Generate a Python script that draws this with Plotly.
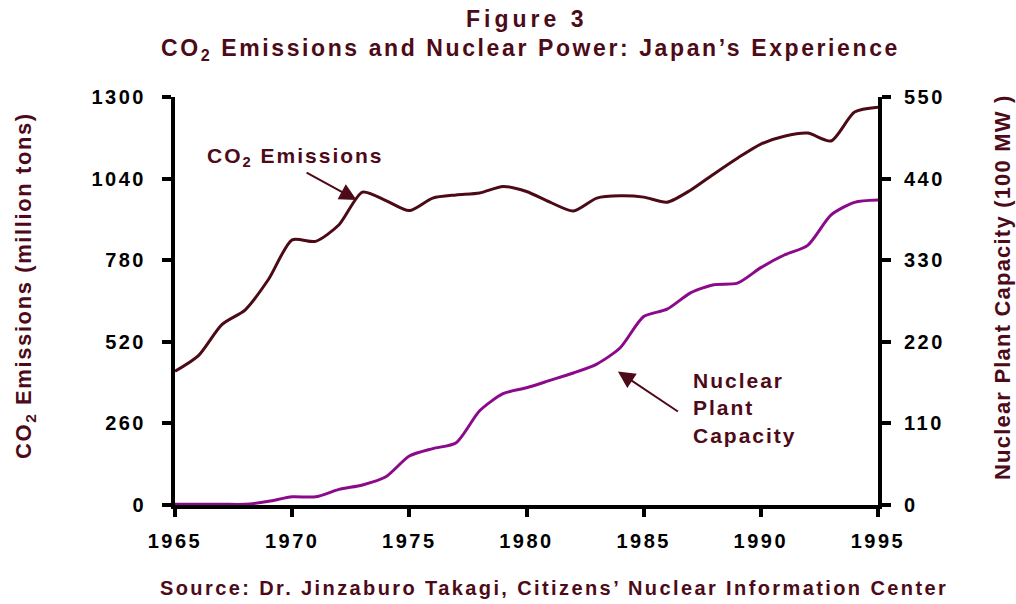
import plotly.graph_objects as go

years = list(range(1965, 1996))
co2_emissions = [426, 476, 575, 622, 720, 845, 840, 893, 997, 970, 938, 978, 988, 994, 1015, 999,
                 965, 937, 978, 985, 981, 965, 1003, 1055, 1105, 1150, 1175, 1185, 1160, 1252, 1267]
nuclear_capacity = [1, 1, 1, 1, 5, 11, 11, 21, 27, 38, 66, 76, 84, 127, 150, 158,
                    168, 178, 190, 212, 254, 264, 286, 297, 299, 320, 337, 350, 391, 408, 411]

x_ticks = [1965, 1970, 1975, 1980, 1985, 1990, 1995]
left_ticks = [0, 260, 520, 780, 1040, 1300]
right_ticks = [0, 110, 220, 330, 440, 550]

MAROON = "#4D0A18"
CO2_COLOR = "#4B0A16"
NUC_COLOR = "#8B0A8B"
FONT = "Liberation Sans, Arial, sans-serif"


def sp(text, px):
    return f'<span style="letter-spacing:{px}px">{text}</span>'


# plot area in pixels
L, R, T, B = 175, 138, 97, 99
W, H = 1016, 604
PW, PH = W - L - R, H - T - B


def xp(px):
    return (px - L) / PW


def yp(py):
    return (H - B - py) / PH


fig = go.Figure()
fig.add_trace(go.Scatter(x=years, y=co2_emissions, mode="lines",
                         line=dict(color=CO2_COLOR, width=3, shape="spline", smoothing=0.7),
                         hoverinfo="skip", showlegend=False))
fig.add_trace(go.Scatter(x=years, y=nuclear_capacity, mode="lines", yaxis="y2",
                         line=dict(color=NUC_COLOR, width=3, shape="spline", smoothing=0.7),
                         hoverinfo="skip", showlegend=False))

tickfont = dict(family=FONT, size=20, color="black", weight="bold")

fig.update_layout(
    width=W, height=H,
    margin=dict(l=L, r=R, t=T, b=B),
    paper_bgcolor="white", plot_bgcolor="white",
    showlegend=False,
    xaxis=dict(range=[1965, 1995], tickvals=x_ticks,
               ticktext=[sp(str(v), 2.5) for v in x_ticks],
               showgrid=False, zeroline=False, showline=True, linewidth=4, linecolor="black",
               ticks="outside", ticklen=8, tickwidth=4, tickcolor="black",
               tickfont=tickfont, ticklabelstandoff=7),
    yaxis=dict(range=[0, 1300], tickvals=left_ticks,
               ticktext=[sp(str(v), 2.5) for v in left_ticks],
               showgrid=False, zeroline=False, showline=True, linewidth=4, linecolor="black",
               ticks="outside", ticklen=9, tickwidth=4, tickcolor="black",
               tickfont=tickfont, ticklabelstandoff=12),
    yaxis2=dict(range=[0, 550], tickvals=right_ticks,
                ticktext=[sp(str(v), 2.5) for v in right_ticks],
                overlaying="y", side="right", anchor="x",
                showgrid=False, zeroline=False, showline=True, linewidth=4, linecolor="black",
                ticks="outside", ticklen=9, tickwidth=4, tickcolor="black",
                tickfont=tickfont, ticklabelstandoff=9),
    yaxis3=dict(range=[0, 1300], tickvals=left_ticks, overlaying="y", side="left", anchor="x",
                showgrid=False, zeroline=False, showline=False, showticklabels=False,
                ticks="inside", ticklen=11, tickwidth=4, tickcolor="black"),
    yaxis4=dict(range=[0, 550], tickvals=right_ticks, overlaying="y", side="right", anchor="x",
                showgrid=False, zeroline=False, showline=False, showticklabels=False,
                ticks="inside", ticklen=9, tickwidth=4, tickcolor="black"),
)

ann_font = dict(family=FONT, size=21, color=MAROON, weight="bold")

annotations = [
    # titles
    dict(text=sp("Figure 3", 4), x=xp(526), y=yp(19), xref="paper", yref="paper",
         xanchor="center", yanchor="middle", showarrow=False,
         font=dict(family=FONT, size=23, color=MAROON, weight="bold")),
    dict(text=sp("CO<sub>2</sub> Emissions and Nuclear Power: Japan\u2019s Experience", 2.6),
         x=xp(530), y=yp(50), xref="paper", yref="paper",
         xanchor="center", yanchor="middle", showarrow=False,
         font=dict(family=FONT, size=23, color=MAROON, weight="bold")),
    # source
    dict(text=sp("Source: Dr. Jinzaburo Takagi, Citizens\u2019 Nuclear Information Center", 2.4),
         x=xp(554), y=yp(588), xref="paper", yref="paper",
         xanchor="center", yanchor="middle", showarrow=False,
         font=dict(family=FONT, size=20, color=MAROON, weight="bold")),
    # axis titles
    dict(text=sp("CO<sub>2</sub> Emissions (million tons)", 1.6), textangle=-90,
         x=xp(25), y=yp(286), xref="paper", yref="paper",
         xanchor="center", yanchor="middle", showarrow=False,
         font=dict(family=FONT, size=22, color=MAROON, weight="bold")),
    dict(text=sp("Nuclear Plant Capacity (100 MW )", 1.2), textangle=-90,
         x=xp(1002), y=yp(287), xref="paper", yref="paper",
         xanchor="center", yanchor="middle", showarrow=False,
         font=dict(family=FONT, size=22, color=MAROON, weight="bold")),
    # series labels
    dict(text=sp("CO<sub>2</sub> Emissions", 2), x=xp(205), y=yp(157), xref="paper", yref="paper",
         xanchor="left", yanchor="middle", showarrow=False, font=ann_font),
    dict(text=sp("Nuclear<br>Plant<br>Capacity", 2), x=xp(691), y=yp(408), xref="paper", yref="paper",
         xanchor="left", yanchor="middle", align="left", showarrow=False, font=ann_font),
    # arrows
    dict(text=" ", x=1972.75, y=972, xref="x", yref="y", ax=-53, ay=-29,
         showarrow=True, arrowhead=2, arrowsize=1.7, arrowwidth=2, arrowcolor=MAROON),
    dict(text=" ", x=1983.9, y=180, xref="x", yref="y2", ax=63, ay=42,
         showarrow=True, arrowhead=2, arrowsize=1.7, arrowwidth=2, arrowcolor=MAROON),
]
fig.update_layout(annotations=annotations)

fig.write_html("out.html")
